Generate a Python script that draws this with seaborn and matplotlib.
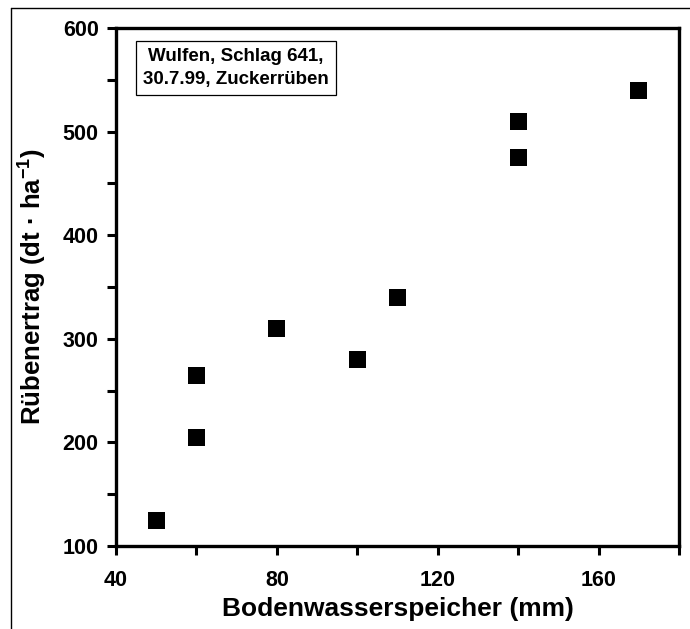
import matplotlib
matplotlib.use("Agg")
import matplotlib.pyplot as plt
from matplotlib.lines import Line2D
from matplotlib.ticker import MultipleLocator
import seaborn as sns
import pandas as pd

# Data
bodenwasser = [50, 60, 60, 80, 100, 110, 140, 140, 170]
ertrag = [125, 205, 265, 310, 280, 340, 475, 510, 540]

sns.set_theme(style="white")
plt.rcParams["font.family"] = ["Liberation Sans", "DejaVu Sans"]
plt.rcParams["font.weight"] = "bold"
plt.rcParams["text.color"] = "black"
plt.rcParams["axes.labelcolor"] = "black"
plt.rcParams["xtick.color"] = "black"
plt.rcParams["ytick.color"] = "black"
plt.rcParams["mathtext.fontset"] = "custom"
plt.rcParams["mathtext.rm"] = "Liberation Sans:bold"
plt.rcParams["mathtext.bf"] = "Liberation Sans:bold"
plt.rcParams["mathtext.default"] = "bf"

df = pd.DataFrame({"x": bodenwasser, "y": ertrag})

fig = plt.figure(figsize=(6.9, 6.29), dpi=100)
ax = fig.add_axes([116/690, 83/629, (679-116)/690, (546-28)/629])

sns.scatterplot(data=df, x="x", y="y", ax=ax, marker="s", s=150,
                color="black", edgecolor="none", linewidth=0, legend=False)

ax.set_xlim(40, 180)
ax.set_ylim(100, 600)
ax.xaxis.set_major_locator(MultipleLocator(40))
ax.xaxis.set_minor_locator(MultipleLocator(20))
ax.yaxis.set_major_locator(MultipleLocator(100))
ax.yaxis.set_minor_locator(MultipleLocator(50))

for sp in ax.spines.values():
    sp.set_visible(True)
    sp.set_color("black")
    sp.set_linewidth(2.4)

ax.tick_params(axis="both", which="both", direction="out", length=6.5,
               width=2.2, color="black", labelcolor="black", bottom=True,
               left=True, top=False, right=False)
ax.tick_params(axis="x", which="major", labelsize=15.5, pad=11)
ax.tick_params(axis="y", which="major", labelsize=15.5, pad=6)
for lab in ax.get_xticklabels() + ax.get_yticklabels():
    lab.set_fontweight("bold")

ax.set_xlabel("Bodenwasserspeicher (mm)", fontsize=19, fontweight="bold",
              labelpad=4, color="black")
ax.set_ylabel("Rübenertrag (dt · ha$^{-1}$)", fontsize=18.5,
              fontweight="bold", labelpad=10, color="black")
ax.grid(False)

ax.text(236/690, 1 - 68/629, "Wulfen, Schlag 641,\n30.7.99, Zuckerrüben",
        transform=fig.transFigure, ha="center", va="center",
        fontsize=13.5, fontweight="bold", linespacing=1.4, color="black",
        bbox=dict(boxstyle="square,pad=0.4", facecolor="white",
                  edgecolor="black", linewidth=0.9))

# outer thin frame (top and left)
fig.add_artist(Line2D([11/690, 1], [1 - 8/629, 1 - 8/629],
                      transform=fig.transFigure, color="black", linewidth=1.0))
fig.add_artist(Line2D([11/690, 11/690], [0, 1 - 8/629],
                      transform=fig.transFigure, color="black", linewidth=1.0))

fig.savefig("out.png", dpi=100, facecolor="white")
